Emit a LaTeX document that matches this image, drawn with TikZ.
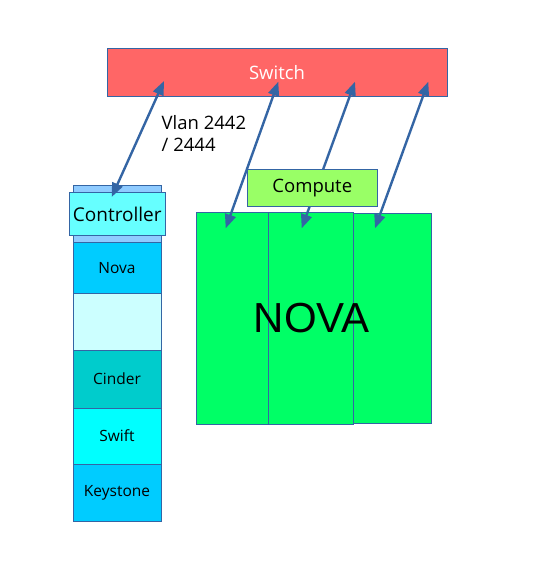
\documentclass[tikz,border=0pt]{standalone}
\usepackage{fontspec}
\setmainfont{Open Sans}
\newfontfamily\arialfont{Liberation Sans}
\usetikzlibrary{arrows.meta}
\definecolor{edgeblue}{HTML}{3465A4}
\definecolor{switchred}{HTML}{FF6666}
\definecolor{ctrlback}{HTML}{8FCBFF}
\definecolor{ctrlfront}{HTML}{66FFFF}
\definecolor{novablue}{HTML}{00CCFF}
\definecolor{paleblue}{HTML}{CCFFFF}
\definecolor{cindercol}{HTML}{00CCCC}
\definecolor{swiftcol}{HTML}{00FFFF}
\definecolor{computecol}{HTML}{99FF66}
\definecolor{novagreen}{HTML}{00FF66}
\tikzset{
  boxst/.style={draw=edgeblue, line width=0.8pt, inner sep=0pt, outer sep=0pt},
  link/.style={draw=edgeblue, line width=2.4pt, {Triangle[length=14pt,width=11pt]}-{Triangle[length=14pt,width=11pt]}},
  lbl/.style={font=\fontsize{15.5}{18}\selectfont, text=black},
  big/.style={font=\fontsize{18.5}{22}\selectfont},
}
\begin{document}
\begin{tikzpicture}[x=1pt,y=-1pt]
\useasboundingbox (0,0) rectangle (540,584);
% Switch
\path[boxst, fill=switchred] (107,48) rectangle (447,96);
\node[big, text=white] (sw) at (277,72.5) {Switch};
% Controller stack
\path[boxst, fill=ctrlback] (73,185) rectangle (161,242);
\path[boxst, fill=novablue] (73,242) rectangle (161,293);
\path[boxst, fill=paleblue] (73,293) rectangle (161,350);
\path[boxst, fill=cindercol] (73,350) rectangle (161,408);
\path[boxst, fill=swiftcol] (73,408) rectangle (161,464);
\path[boxst, fill=novablue] (73,464) rectangle (161,521);
\path[boxst, fill=ctrlfront] (69,192) rectangle (165.5,235);
\node[font=\fontsize{19}{22}\selectfont] (ctrl) at (117.3,214) {Controller};
\node[lbl] (nova) at (117,268) {Nova};
\node[lbl] (cinder) at (117,379) {Cinder};
\node[lbl] (swift) at (117,436) {Swift};
\node[lbl] (keystone) at (117,493) {Keystone};
% Vlan label
\node[big, align=left, anchor=north west, inner sep=0pt] (vlan) at (161.5,115) {Vlan 2442\\[0.5pt]/ 2444};
% NOVA boxes
\path[boxst, fill=novagreen] (353.3,213.3) rectangle (431.7,423.3);
\path[boxst, fill=novagreen] (196.3,212.3) rectangle (268.3,424);
\path[boxst, fill=novagreen] (268.3,212.3) rectangle (353.3,424);
\node[font=\arialfont\fontsize{42}{50}\selectfont] (novabig) at (311.7,318) {NOVA};
% coordinates for arrow ends
\coordinate (s1) at (164,81);
\coordinate (c1) at (111.7,197);
\coordinate (s2) at (278.3,81.7);
\coordinate (n1) at (225.7,228.3);
\coordinate (s3) at (355,81.7);
\coordinate (n2) at (301.7,228.3);
\coordinate (s4) at (428.3,81.7);
\coordinate (n3) at (375,228.3);
\draw[link] (s1) -- (c1);
\draw[link] (s2) -- (n1);
\draw[link] (s3) -- (n2);
\draw[link] (s4) -- (n3);
% Compute box over arrow 3
\path[boxst, fill=computecol] (247.3,169.3) rectangle (377.3,206.7);
\node[big] (compute) at (312.3,188.5) {Compute};
\end{tikzpicture}
\end{document}
